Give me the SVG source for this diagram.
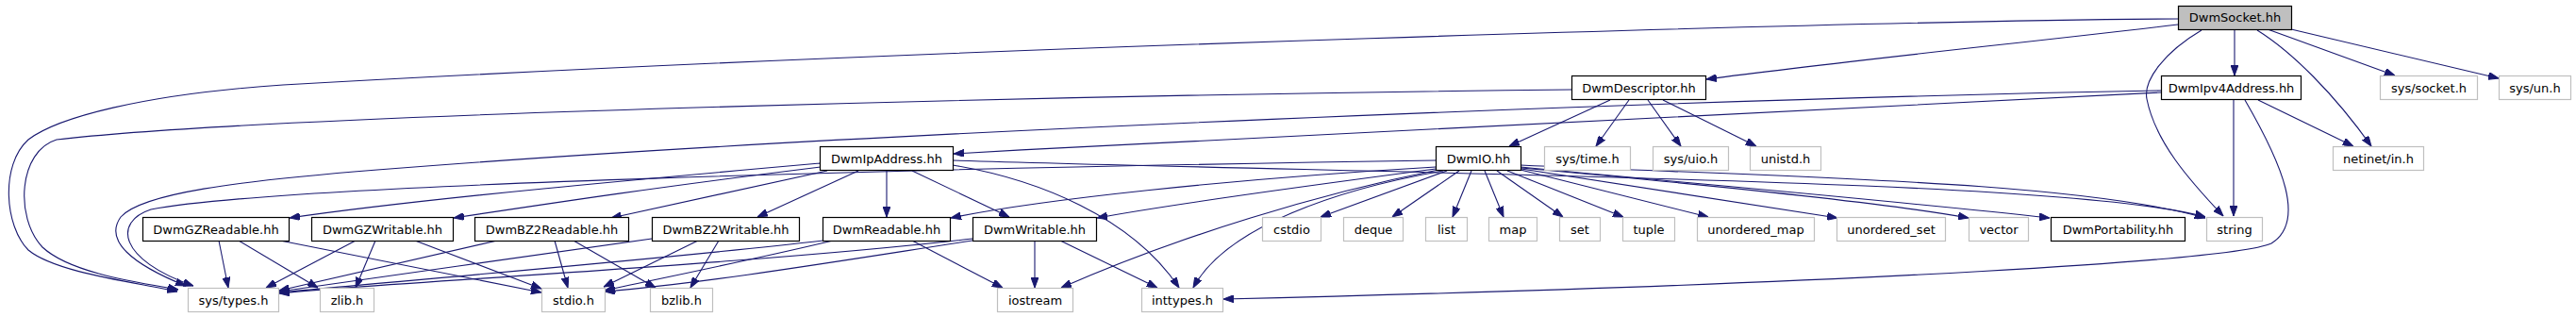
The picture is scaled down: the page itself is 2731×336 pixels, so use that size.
<svg xmlns="http://www.w3.org/2000/svg" width="2731" height="336" viewBox="0 0 2731 336">
<defs>
<marker id="a" markerUnits="userSpaceOnUse" markerWidth="11" markerHeight="8" viewBox="0 0 11 8" refX="11" refY="4" orient="auto"><path d="M0,0 L11,4 L0,8 z" fill="#191970" stroke="#191970" stroke-width="1"/></marker>
</defs>
<style>
.e path{fill:none;stroke:#191970;stroke-width:1.1;marker-end:url(#a)}
.n rect{fill:#fff;stroke:#000;stroke-width:1.2}
.x rect{fill:#fff;stroke:#bfbfbf;stroke-width:1.2}
.r rect{fill:#bfbfbf;stroke:#000;stroke-width:1.2}
text{font-family:"DejaVu Sans",sans-serif;font-size:13px;text-anchor:middle;fill:#000}
</style>
<rect width="2731" height="336" fill="#fff"/>
<g class="e" id="edges">
<path d="M2369,31 L2369,80"/>
<path d="M2404,31 L2539,80"/>
<path d="M2429,31 L2649,83"/>
<path d="M2393,32 C2430,55 2475,100 2514,155"/>
<path d="M2334,32 C2295,55 2272,85 2276,105 C2285,150 2320,190 2357,229"/>
<path d="M2309,26 C2150,45 1950,65 1809,84"/>
<path d="M2309,20 C2000,22 1000,50 300,90 C150,100 60,125 30,148 C0,175 5,240 30,265 C60,290 150,300 188,309"/>
<path d="M2368,106 L2368,229"/>
<path d="M2394,106 L2495,155"/>
<path d="M2380,106 C2420,175 2445,235 2408,258 C2370,275 2000,300 1297,317"/>
<path d="M2291,98 C2000,110 1500,135 1011,163"/>
<path d="M2291,96 C1800,105 900,140 400,180 C250,192 150,205 128,230 C110,255 140,280 197,303"/>
<path d="M1707,106 L1600,155"/>
<path d="M1727,106 L1692,155"/>
<path d="M1747,106 L1782,155"/>
<path d="M1763,106 L1862,155"/>
<path d="M1666,95 C1200,100 300,120 60,148 C20,160 15,230 45,262 C75,290 150,300 189,307"/>
<path d="M870,173 C700,188 450,210 307,231"/>
<path d="M870,177 C700,198 600,213 481,231"/>
<path d="M877,181 L648,231"/>
<path d="M910,181 L803,230"/>
<path d="M940,181 L940,230"/>
<path d="M967,181 L1070,230"/>
<path d="M1010,175 C1100,190 1200,230 1250,305"/>
<path d="M1010,170 C1500,185 2200,190 2338,230"/>
<path d="M1534,181 L1400,230"/>
<path d="M1547,181 L1476,230"/>
<path d="M1560,181 L1540,230"/>
<path d="M1574,181 L1594,230"/>
<path d="M1587,181 L1657,230"/>
<path d="M1598,181 L1721,230"/>
<path d="M1612,180 L1811,230"/>
<path d="M1613,179 L1948,231"/>
<path d="M1613,178 C1800,195 2000,215 2087,231"/>
<path d="M1612,177 C1800,195 2000,212 2173,231"/>
<path d="M1612,175 C1900,188 2200,192 2338,231"/>
<path d="M1522,177 C1300,190 1100,212 1008,231"/>
<path d="M1522,179 C1400,195 1250,215 1163,231"/>
<path d="M1525,180 C1400,205 1250,250 1125,305"/>
<path d="M1530,181 C1420,200 1300,240 1265,305"/>
<path d="M1522,170 C1000,178 300,195 160,222 C120,235 125,275 205,303"/>
<path d="M232,255 L242,305"/>
<path d="M253,255 L337,305"/>
<path d="M297,255 L574,310"/>
<path d="M377,255 L282,305"/>
<path d="M398,255 L377,305"/>
<path d="M440,255 L574,306"/>
<path d="M527,255 L296,308"/>
<path d="M588,255 L602,305"/>
<path d="M608,255 L695,305"/>
<path d="M691,253 C600,265 400,295 296,309"/>
<path d="M740,255 L640,304"/>
<path d="M762,255 L732,305"/>
<path d="M873,255 C700,275 400,300 296,310"/>
<path d="M883,255 C800,275 700,295 641,308"/>
<path d="M967,255 L1063,305"/>
<path d="M1031,253 C800,280 400,300 296,311"/>
<path d="M1031,255 C900,275 750,300 641,309"/>
<path d="M1097,255 L1097,305"/>
<path d="M1124,255 L1227,305"/>
</g>
<g id="DwmSocket" class="r"><rect x="2309.5" y="6.5" width="120" height="25"/><text x="2369.5" y="23">DwmSocket.hh</text></g>
<g id="DwmDescriptor" class="n"><rect x="1666.5" y="80.5" width="142" height="25"/><text x="1737.5" y="97.5">DwmDescriptor.hh</text></g>
<g id="DwmIpv4Address" class="n"><rect x="2291.5" y="80.5" width="148" height="25"/><text x="2365.5" y="97.5">DwmIpv4Address.hh</text></g>
<g id="sys_socket" class="x"><rect x="2523.5" y="80.5" width="103" height="25"/><text x="2575" y="97.5">sys/socket.h</text></g>
<g id="sys_un" class="x"><rect x="2649.5" y="80.5" width="76" height="25"/><text x="2687.5" y="97.5">sys/un.h</text></g>
<g id="DwmIpAddress" class="n"><rect x="869.5" y="155.5" width="141" height="25"/><text x="940" y="172.5">DwmIpAddress.hh</text></g>
<g id="DwmIO" class="n"><rect x="1522.5" y="155.5" width="90" height="25"/><text x="1567.5" y="172.5">DwmIO.hh</text></g>
<g id="sys_time" class="x"><rect x="1637.5" y="155.5" width="91" height="25"/><text x="1683" y="172.5">sys/time.h</text></g>
<g id="sys_uio" class="x"><rect x="1752.5" y="155.5" width="80" height="25"/><text x="1792.5" y="172.5">sys/uio.h</text></g>
<g id="unistd" class="x"><rect x="1855.5" y="155.5" width="75" height="25"/><text x="1893" y="172.5">unistd.h</text></g>
<g id="netinet_in" class="x"><rect x="2473.5" y="155.5" width="96" height="25"/><text x="2521.5" y="172.5">netinet/in.h</text></g>
<g id="DwmGZReadable" class="n"><rect x="151.5" y="230.5" width="155" height="25"/><text x="229" y="247.5">DwmGZReadable.hh</text></g>
<g id="DwmGZWritable" class="n"><rect x="330.5" y="230.5" width="150" height="25"/><text x="405.5" y="247.5">DwmGZWritable.hh</text></g>
<g id="DwmBZ2Readable" class="n"><rect x="503.5" y="230.5" width="163" height="25"/><text x="585" y="247.5">DwmBZ2Readable.hh</text></g>
<g id="DwmBZ2Writable" class="n"><rect x="691.5" y="230.5" width="156" height="25"/><text x="769.5" y="247.5">DwmBZ2Writable.hh</text></g>
<g id="DwmReadable" class="n"><rect x="872.5" y="230.5" width="135" height="25"/><text x="940" y="247.5">DwmReadable.hh</text></g>
<g id="DwmWritable" class="n"><rect x="1031.5" y="230.5" width="131" height="25"/><text x="1097" y="247.5">DwmWritable.hh</text></g>
<g id="cstdio" class="x"><rect x="1338.5" y="230.5" width="62" height="25"/><text x="1369.5" y="247.5">cstdio</text></g>
<g id="deque" class="x"><rect x="1424.5" y="230.5" width="63" height="25"/><text x="1456" y="247.5">deque</text></g>
<g id="list" class="x"><rect x="1511.5" y="230.5" width="44" height="25"/><text x="1533.5" y="247.5">list</text></g>
<g id="map" class="x"><rect x="1578.5" y="230.5" width="51" height="25"/><text x="1604" y="247.5">map</text></g>
<g id="set" class="x"><rect x="1653.5" y="230.5" width="43" height="25"/><text x="1675" y="247.5">set</text></g>
<g id="tuple" class="x"><rect x="1720.5" y="230.5" width="55" height="25"/><text x="1748" y="247.5">tuple</text></g>
<g id="unordered_map" class="x"><rect x="1799.5" y="230.5" width="124" height="25"/><text x="1861.5" y="247.5">unordered_map</text></g>
<g id="unordered_set" class="x"><rect x="1947.5" y="230.5" width="115" height="25"/><text x="2005" y="247.5">unordered_set</text></g>
<g id="vector" class="x"><rect x="2087.5" y="230.5" width="63" height="25"/><text x="2119" y="247.5">vector</text></g>
<g id="DwmPortability" class="n"><rect x="2174.5" y="230.5" width="142" height="25"/><text x="2245.5" y="247.5">DwmPortability.hh</text></g>
<g id="string" class="x"><rect x="2339.5" y="230.5" width="59" height="25"/><text x="2369" y="247.5">string</text></g>
<g id="sys_types" class="x"><rect x="199.5" y="305.5" width="96" height="25"/><text x="247.5" y="322.5">sys/types.h</text></g>
<g id="zlib" class="x"><rect x="339.5" y="305.5" width="57" height="25"/><text x="368" y="322.5">zlib.h</text></g>
<g id="stdio" class="x"><rect x="574.5" y="305.5" width="67" height="25"/><text x="608" y="322.5">stdio.h</text></g>
<g id="bzlib" class="x"><rect x="689.5" y="305.5" width="66" height="25"/><text x="722.5" y="322.5">bzlib.h</text></g>
<g id="iostream" class="x"><rect x="1057.5" y="305.5" width="80" height="25"/><text x="1097.5" y="322.5">iostream</text></g>
<g id="inttypes" class="x"><rect x="1210.5" y="305.5" width="86" height="25"/><text x="1253.5" y="322.5">inttypes.h</text></g>
</svg>
